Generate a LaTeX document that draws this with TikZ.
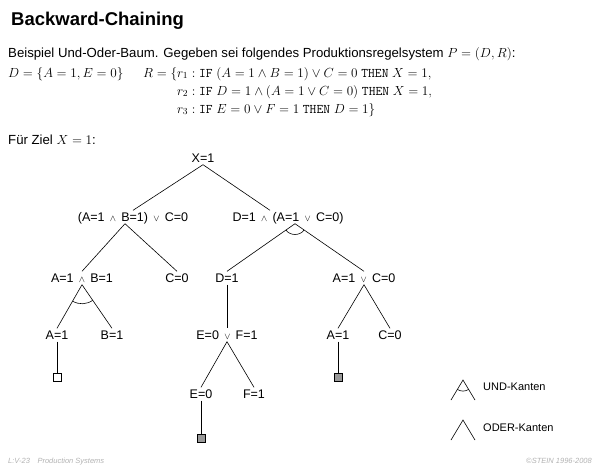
\RequirePackage{fix-cm}
\documentclass[tikz,border=0pt]{standalone}
\usepackage[no-math]{fontspec}
\setmainfont{Liberation Sans}
\usepackage{amsmath}
\usetikzlibrary{calc, positioning}
\tikzstyle{every node}=[inner sep=0pt]
\tikzstyle{txt}=[anchor=base west, font=\fontsize{13.2}{15}\selectfont]
\tikzstyle{goal}=[font=\fontsize{12.5}{14}\selectfont, text height=9pt, text depth=0pt, inner ysep=2pt]
\tikzstyle{leaf}=[draw, rectangle, minimum size=8pt, line width=0.6pt]
\tikzstyle{edge}=[line width=0.6pt]
\tikzstyle{foot}=[font=\fontsize{7.5}{9}\selectfont\itshape, text=black!30]
\newcommand{\und}{\kern1.8pt{\fontsize{9}{9}\selectfont$\wedge$}\kern1.8pt}
\newcommand{\oder}{\kern1.8pt{\fontsize{9}{9}\selectfont$\vee$}\kern1.8pt}

\begin{document}
\begin{tikzpicture}[x=1pt, y=-1pt]
  \useasboundingbox (0,0) rectangle (600,467);
  \node[txt, font=\fontsize{18.5}{22}\selectfont\bfseries] (title) at (11,25) {Backward-Chaining};
  \node[txt] (intro) at (8,57) {Beispiel Und-Oder-Baum. Gegeben sei folgendes Produktionsregelsystem $P=(D,R)$:};
  \node[txt] (db) at (8,77) {$D=\{A=1,E=0\}$};
  \node[txt] (r1) at (143,77) {$R=\{r_1:\texttt{IF}\ (A=1\wedge B=1)\vee C=0\ \texttt{THEN}\ X=1,$};
  \node[txt] (r2) at (143,95) {$\phantom{R=\{}r_2:\texttt{IF}\ D=1\wedge(A=1\vee C=0)\ \texttt{THEN}\ X=1,$};
  \node[txt] (r3) at (143,113) {$\phantom{R=\{}r_3:\texttt{IF}\ E=0\vee F=1\ \texttt{THEN}\ D=1\}$};
  \node[txt] (ziel) at (8,144) {Für Ziel $X=1$:};

  \node[goal] (x1) at (203,158) {X=1};
  \node[goal] (n1) at (133,217) {(A=1 \und{} B=1) \oder{} C=0};
  \node[goal] (n2) at (288,217) {D=1 \und{} (A=1 \oder{} C=0)};
  \node[goal] (n11) at (82,278) {A=1 \und{} B=1};
  \node[goal] (n12) at (177,278) {C=0};
  \node[goal] (n21) at (227,278) {D=1};
  \node[goal] (n22) at (364,278) {A=1 \oder{} C=0};
  \node[goal] (n111) at (57,335) {A=1};
  \node[goal] (n112) at (112,335) {B=1};
  \node[goal] (n211) at (227,335) {E=0 \oder{} F=1};
  \node[goal] (n221) at (338,335) {A=1};
  \node[goal] (n222) at (390,335) {C=0};
  \node[goal] (n2111) at (201,394) {E=0};
  \node[goal] (n2112) at (254,394) {F=1};
  \node[leaf, fill=white] (s1) at (57,377) {};
  \node[leaf, fill=black!40] (s3) at (338,377) {};
  \node[leaf, fill=black!40] (s2) at (201,438) {};

  \draw[edge] (x1.south) -- (n1.north);
  \draw[edge] (x1.south) -- ([xshift=-18pt]n2.north);
  \draw[edge] ([xshift=-8pt]n1.south) -- (n11.north);
  \draw[edge] ([xshift=-8pt]n1.south) -- (n12.north);
  \coordinate (a2) at ([xshift=7pt]n2.south);
  \draw[edge] (a2) -- (n21.north);
  \draw[edge] (a2) -- (n22.north);
  \draw[edge] ($(a2)!11pt!(n21.north)$) to[bend right=58] ($(a2)!11pt!(n22.north)$);
  \draw[edge] (n11.south) -- (n111.north);
  \draw[edge] (n11.south) -- (n112.north);
  \draw[edge] ($(n11.south)!19pt!(n111.north)$) to[bend right=30] ($(n11.south)!19pt!(n112.north)$);
  \draw[edge] (n21.south) -- (n211.north);
  \draw[edge] (n211.south) -- (n2111.north);
  \draw[edge] (n211.south) -- (n2112.north);
  \draw[edge] (n22.south) -- (n221.north);
  \draw[edge] (n22.south) -- (n222.north);
  \draw[edge] (n111.south) -- (s1.north);
  \draw[edge] (n221.south) -- (s3.north);
  \draw[edge] (n2111.south) -- (s2.north);

  \coordinate (u) at (463,380);
  \coordinate (ul) at (451,400);
  \coordinate (ur) at (475,400);
  \draw[edge] (ul) -- (u) -- (ur);
  \draw[edge] ($(u)!11pt!(ul)$) to[bend right=30] ($(u)!11pt!(ur)$);
  \node[anchor=west, font=\fontsize{11}{13}\selectfont] (und) at (483,387) {UND-Kanten};
  \coordinate (o) at (463,420);
  \coordinate (ol) at (451,440);
  \coordinate (or) at (475,440);
  \draw[edge] (ol) -- (o) -- (or);
  \node[anchor=west, font=\fontsize{11}{13}\selectfont] (oder) at (483,428) {ODER-Kanten};

  \node[foot, anchor=base west] (lect) at (8,463) {L:V-23\quad Production Systems};
  \node[foot, anchor=base east] (copy) at (592,463) {©STEIN 1996-2008};
\end{tikzpicture}
\end{document}
